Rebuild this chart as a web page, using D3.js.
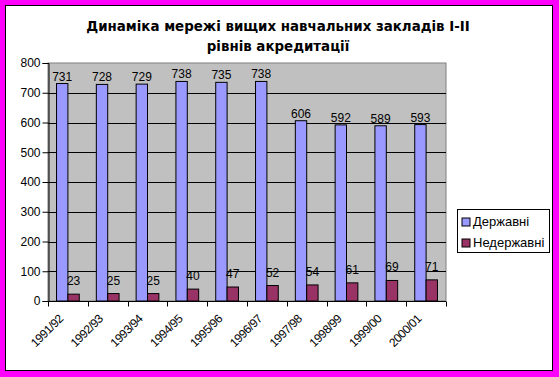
<!DOCTYPE html>
<html>
<head>
<meta charset="utf-8">
<script src="https://cdn.jsdelivr.net/npm/d3@7"></script>
<style>
  body { margin: 0; padding: 0; background: #ff00ff; }
  text { font-family: Arial, "Liberation Sans", sans-serif; }
</style>
</head>
<body>
<div id="container"></div>
<script>
let w = 559;
let h = 377;

// data
let years = ["1991/92", "1992/93", "1993/94", "1994/95", "1995/96", "1996/97", "1997/98", "1998/99", "1999/00", "2000/01"];
let stateVals = [731, 728, 729, 738, 735, 738, 606, 592, 589, 593];
let privateVals = [23, 25, 25, 40, 47, 52, 54, 61, 69, 71];
let seriesNames = ["Державні", "Недержавні"];
let yTicks = [0, 100, 200, 300, 400, 500, 600, 700, 800];
let titleLines = ["Динаміка мережі вищих навчальних закладів І-ІІ", "рівнів акредитації"];

let colors = ["#9999ff", "#993366"];

let plot = {left: 48, top: 63, right: 446, bottom: 301};

let viz = d3.select("#container").append("svg")
  .attr("width", w)
  .attr("height", h)
  .style("display", "block");

// magenta frame + white chart area
viz.append("rect").attr("x", 0).attr("y", 0).attr("width", w).attr("height", h).attr("fill", "#ff00ff");
viz.append("rect").attr("x", 5.5).attr("y", 5.5).attr("width", 547).attr("height", 365)
  .attr("fill", "white").attr("stroke", "black");

// title
viz.selectAll(".title").data(titleLines).enter()
  .append("text")
  .attr("class", "title")
  .attr("x", 278)
  .attr("y", (d, i) => 31 + i * 20)
  .attr("text-anchor", "middle")
  .style("font-family", "'DejaVu Sans', Verdana, sans-serif")
  .attr("font-size", 13.4)
  .attr("font-weight", "bold")
  .text(d => d);

let xScale = d3.scaleBand().domain(years).range([plot.left, plot.right]);
let yScale = d3.scaleLinear().domain([0, 800]).range([plot.bottom, plot.top]);

let bw = xScale.bandwidth();
let barW = bw / 3.5;
let gap = barW * 0.75;

// plot background
viz.append("rect")
  .attr("x", plot.left).attr("y", plot.top)
  .attr("width", plot.right - plot.left).attr("height", plot.bottom - plot.top)
  .attr("fill", "#c0c0c0")
  .attr("stroke", "#808080");

// gridlines
viz.selectAll(".grid").data(yTicks.filter(d => d > 0 && d < 800)).enter()
  .append("line")
  .attr("class", "grid")
  .attr("x1", plot.left).attr("x2", plot.right)
  .attr("y1", d => Math.round(yScale(d)) + 0.5)
  .attr("y2", d => Math.round(yScale(d)) + 0.5)
  .attr("stroke", "black");

// y axis
let yAxis = d3.axisLeft(yScale).tickValues(yTicks).tickSize(6).tickPadding(2);
let yG = viz.append("g").attr("transform", "translate(" + (plot.left + 0.5) + ",0)").call(yAxis);
yG.select(".domain").attr("stroke", "black");
yG.selectAll("text").attr("font-size", 12).attr("fill", "black").attr("font-family", "Arial, 'Liberation Sans', sans-serif");

// x axis: ticks at category boundaries
let xG = viz.append("g").attr("transform", "translate(0," + (plot.bottom + 0.5) + ")");
xG.append("line").attr("x1", plot.left).attr("x2", plot.right).attr("stroke", "black");
let bounds = years.map(d => xScale(d)).concat([plot.right]);
xG.selectAll(".xt").data(bounds).enter()
  .append("line")
  .attr("x1", d => Math.round(d) + 0.5).attr("x2", d => Math.round(d) + 0.5)
  .attr("y1", 0).attr("y2", 5)
  .attr("stroke", "black");
xG.selectAll(".xl").data(years).enter()
  .append("text")
  .attr("transform", d => "translate(" + (xScale(d) + bw / 2 - 4) + ",18) rotate(-45)")
  .attr("text-anchor", "end")
  .attr("font-size", 12)
  .attr("letter-spacing", -0.5)
  .text(d => d);

// bars
let allSeries = [stateVals, privateVals];
let labelGap = [3, 9];
allSeries.forEach(function(vals, s){
  viz.selectAll(".bar" + s).data(vals).enter()
    .append("rect")
    .attr("class", "bar" + s)
    .attr("x", (d, i) => xScale(years[i]) + gap + s * barW)
    .attr("y", d => yScale(d))
    .attr("width", barW)
    .attr("height", d => plot.bottom - yScale(d))
    .attr("fill", colors[s])
    .attr("stroke", "black");

  viz.selectAll(".lab" + s).data(vals).enter()
    .append("text")
    .attr("class", "lab" + s)
    .attr("x", (d, i) => xScale(years[i]) + gap + s * barW + barW / 2)
    .attr("y", d => yScale(d) - labelGap[s])
    .attr("text-anchor", "middle")
    .attr("font-size", 12)
    .text(d => d);
});

// legend
let legend = viz.append("g");
legend.append("rect").attr("x", 457.5).attr("y", 209.5).attr("width", 92).attr("height", 43)
  .attr("fill", "white").attr("stroke", "black");
seriesNames.forEach(function(name, i){
  legend.append("rect")
    .attr("x", 462).attr("y", 218 + i * 21).attr("width", 8).attr("height", 8)
    .attr("fill", colors[i]).attr("stroke", "black");
  legend.append("text")
    .attr("x", 473).attr("y", 226 + i * 21)
    .attr("font-size", 13)
    .text(name);
});
</script>
</body>
</html>
